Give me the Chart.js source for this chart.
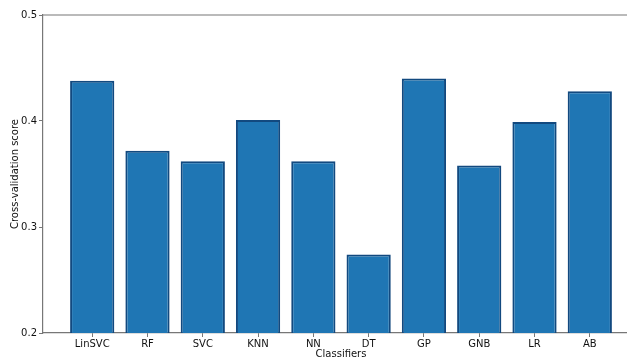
<!DOCTYPE html>
<html>
<head>
<meta charset="utf-8">
<script src="https://cdn.jsdelivr.net/npm/chart.js@4/dist/chart.umd.min.js"></script>
<style>
  html, body { margin: 0; padding: 0; background: #fff; overflow: hidden; }
  #wrap { position: relative; width: 660px; height: 360px; }
</style>
</head>
<body>
<div id="wrap"><canvas id="c"></canvas></div>
<script>
// Cross-validation scores per classifier
const classifiers = ['LinSVC', 'RF', 'SVC', 'KNN', 'NN', 'DT', 'GP', 'GNB', 'LR', 'AB'];
const cvScores = [0.438, 0.372, 0.362, 0.401, 0.362, 0.274, 0.440, 0.358, 0.399, 0.428];
const yTicks = [0.2, 0.3, 0.4, 0.5];

const spineColor = '#777777';
const font = { family: 'DejaVu Sans', size: 10 };

// top and right frame lines
const framePlugin = {
  id: 'frame',
  afterDraw(chart) {
    const { ctx, chartArea: a } = chart;
    ctx.save();
    ctx.strokeStyle = spineColor;
    ctx.lineWidth = 1.2;
    ctx.beginPath();
    ctx.moveTo(a.left, a.top);
    ctx.lineTo(a.right, a.top);
    ctx.lineTo(a.right, a.bottom);
    ctx.stroke();
    ctx.restore();
  }
};

new Chart(document.getElementById('c'), {
  type: 'bar',
  data: {
    datasets: [{
      data: classifiers.map((name, i) => ({ x: i, y: cvScores[i] })),
      backgroundColor: '#1f76b4',
      borderColor: '#12497f',
      borderWidth: 2,
      barPercentage: 1,
      categoryPercentage: 0.8
    }]
  },
  options: {
    responsive: true,
    maintainAspectRatio: false,
    animation: false,
    layout: { padding: { left: 0, right: 21, top: 15, bottom: 0 } },
    plugins: { legend: { display: false }, tooltip: { enabled: false } },
    scales: {
      x: {
        type: 'linear',
        offset: false,
        min: -0.89,
        max: 9.89,
        afterBuildTicks(scale) {
          scale.ticks = classifiers.map((_, i) => ({ value: i }));
        },
        afterFit(scale) { scale.height = 27; },
        ticks: {
          autoSkip: false,
          maxRotation: 0,
          padding: 1,
          color: '#111',
          font: font,
          callback: (v) => classifiers[v]
        },
        grid: { drawOnChartArea: false, offset: false, tickLength: 4, color: spineColor, tickWidth: 1 },
        border: { color: spineColor, width: 1.2 },
        title: { display: true, text: 'Classifiers', color: '#111', font: font, padding: { top: 0, bottom: 0 } }
      },
      y: {
        min: 0.2,
        max: 0.5,
        afterBuildTicks(scale) {
          scale.ticks = yTicks.map(v => ({ value: v }));
        },
        afterFit(scale) { scale.width = 43; },
        ticks: {
          padding: 2,
          color: '#111',
          font: font,
          callback: (v) => v.toFixed(1)
        },
        grid: { drawOnChartArea: false, tickLength: 4, color: spineColor, tickWidth: 1 },
        border: { color: spineColor, width: 1.2 },
        title: { display: true, text: 'Cross-validation score', color: '#111', font: font, padding: { top: 9, bottom: 0 } }
      }
    }
  },
  plugins: [framePlugin]
});
</script>
</body>
</html>
